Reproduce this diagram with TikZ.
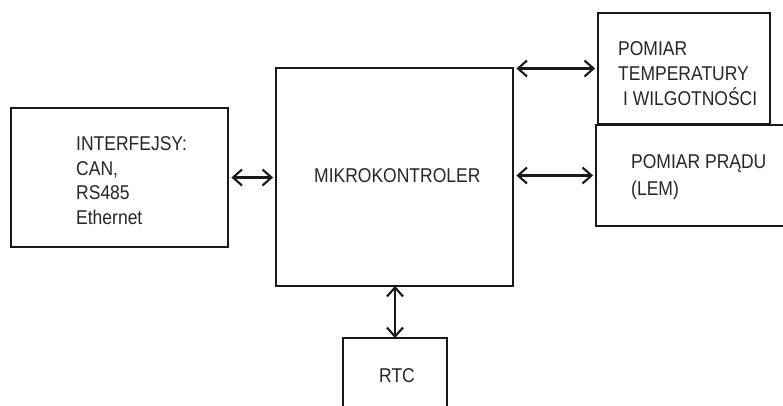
\documentclass[tikz,border=0pt]{standalone}
\usepackage{fontspec}
\setmainfont{Liberation Sans}
\usetikzlibrary{arrows.meta}
\newcommand\tline[1]{\scalebox{1}[1.14]{#1}}
\begin{document}
\begin{tikzpicture}[x=1pt,y=-1pt,
  blk/.style={draw=black!90,line width=2.8pt,inner sep=0pt,minimum width=#1},
  lbl/.style={anchor=base west,inner sep=0pt,align=left,font=\fontsize{17.5}{24.5}\selectfont,text=black!85},
  arr/.style={line width=2.1pt,draw=black!90,{Straight Barb[length=9pt,width=16pt,line width=2.1pt]}-{Straight Barb[length=9pt,width=16pt,line width=2.1pt]}}]
\useasboundingbox (0,0) rectangle (783,405);
\clip (0,0) rectangle (783,405);
\node[blk=217pt,minimum height=139pt] (ifc) at (119.5,177.5) {};
\node[blk=237pt,minimum height=218pt] (mk) at (394.5,177) {};
\node[blk=172pt,minimum height=111pt] (tmp) at (684,68.5) {};
\node[blk=200pt,minimum height=101pt] (prd) at (696,175.5) {};
\node[blk=104pt,minimum height=100pt] (rtc) at (395,388) {};
\node[lbl] (ifct) at (76,224) {\tline{INTERFEJSY:}\\\tline{CAN,}\\\tline{RS485}\\\tline{Ethernet}};
\node[lbl] (mkt) at (314,182) {\tline{MIKROKONTROLER}};
\node[lbl,font=\fontsize{17.5}{25}\selectfont] (tmpt) at (618,105) {\tline{POMIAR}\\\tline{TEMPERATURY}\\\tline{\ I WILGOTNOŚCI}};
\node[lbl,font=\fontsize{17.5}{26.5}\selectfont] (prdt) at (631,195) {\tline{POMIAR PRĄDU}\\\tline{(LEM)}};
\node[lbl] (rtct) at (379,382) {\tline{RTC}};
\draw[arr] ([xshift=2pt]ifc.east) -- ([xshift=-1.5pt]ifc.east -| mk.west);
\draw[arr] ([xshift=2pt]mk.east |- tmp.west) -- ([xshift=-1.5pt]tmp.west);
\draw[arr] ([xshift=2pt]mk.east |- prd.west) -- ([xshift=-1.5pt]prd.west);
\draw[arr] ([yshift=1.5pt]rtc.north |- mk.south) -- ([yshift=-1.5pt]rtc.north);
\end{tikzpicture}
\end{document}
